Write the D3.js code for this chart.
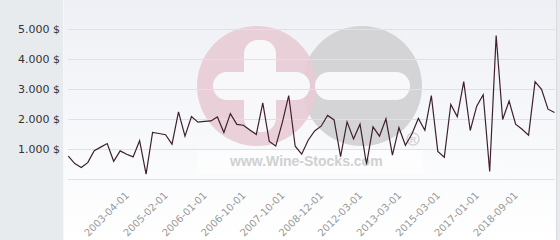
<!DOCTYPE html>
<html>
<head>
<meta charset="utf-8">
<script src="https://cdn.jsdelivr.net/npm/d3@7"></script>
<style>
  html, body { margin: 0; padding: 0; background: #fff; }
  svg { display: block; }
  .ylab text { font-family: "DejaVu Sans", sans-serif; font-size: 11px; fill: #333; }
  .xlab text { font-family: "DejaVu Sans", sans-serif; font-size: 10px; fill: #999; }
</style>
</head>
<body>
<script>
// price per observation, in $
var prices = [745, 500, 368, 530, 930, 1050, 1170, 575, 923, 810,
              722, 1265, 144, 1538, 1505, 1465, 1147, 2227, 1415, 2070,
              1885, 1910, 1926, 2060, 1540, 2170, 1810, 1780, 1625, 1475,
              2528, 1240, 1085, 1860, 2775, 1080, 813, 1281, 1590, 1749,
              2110, 1960, 735, 1893, 1320, 1816, 475, 1726, 1415, 1995,
              779, 1700, 1110, 1490, 2007, 1615, 2775, 905, 712, 2480,
              2070, 3240, 1605, 2420, 2800, 232, 4780, 1973, 2590, 1816,
              1645, 1448, 3240, 2980, 2318, 2207];

// labelled categories on the x axis and the observation they sit at
var tickLabels = ['2003-04-01', '2005-02-01', '2006-01-01', '2006-10-01', '2007-10-01',
                  '2008-12-01', '2012-03-01', '2013-03-01', '2015-03-01', '2017-01-01',
                  '2018-09-01'];
var tickIndex = [9, 15, 21, 27, 33, 39, 45, 51, 57, 63, 69];

var yTicks = [0, 1000, 2000, 3000, 4000, 5000];

var W = 560, H = 240;
var svg = d3.select('body').append('svg')
    .attr('width', W)
    .attr('height', H);

// background: grey side panel + gradient plot panel
var defs = svg.append('defs');
var grad = defs.append('linearGradient')
    .attr('id', 'bg')
    .attr('x1', 0).attr('y1', 0).attr('x2', 0).attr('y2', 1);
grad.append('stop').attr('offset', '0%').attr('stop-color', '#eef0f5');
grad.append('stop').attr('offset', '100%').attr('stop-color', '#ffffff');

svg.append('rect').attr('width', W).attr('height', H).attr('fill', '#e8ebee');
svg.append('rect')
    .attr('x', 63).attr('y', 0)
    .attr('width', 494).attr('height', H)
    .attr('fill', 'url(#bg)');
svg.append('line')
    .attr('x1', 63.5).attr('x2', 63.5).attr('y1', 0).attr('y2', H)
    .attr('stroke', '#f6f7f9');
svg.append('line')
    .attr('x1', 556.5).attr('x2', 556.5).attr('y1', 0).attr('y2', H)
    .attr('stroke', '#d8dadd');

var x = d3.scalePoint()
    .domain(d3.range(prices.length))
    .range([68.3, 554.5]);

var y = d3.scaleLinear()
    .domain([0, 5000])
    .range([178.5, 29]);

// watermark
var wm = svg.append('g').attr('class', 'watermark');
wm.append('circle').attr('cx', 362).attr('cy', 86).attr('r', 60).attr('fill', '#d4d4d6');
wm.append('circle').attr('cx', 257).attr('cy', 86).attr('r', 60).attr('fill', '#e8cbd4').attr('opacity', 0.9);
wm.append('rect').attr('x', 244).attr('y', 40).attr('width', 32).attr('height', 92)
    .attr('rx', 14).attr('fill', '#f8f8fb');
wm.append('rect').attr('x', 213).attr('y', 72).attr('width', 97).attr('height', 28)
    .attr('rx', 14).attr('fill', '#f8f8fb');
wm.append('rect').attr('x', 315).attr('y', 72).attr('width', 95).attr('height', 28)
    .attr('rx', 14).attr('fill', '#f8f8fb');
wm.append('rect').attr('x', 197).attr('y', 150).attr('width', 226).attr('height', 24)
    .attr('fill', '#ffffff').attr('opacity', 0.5);
wm.append('text')
    .attr('x', 230).attr('y', 166)
    .style('font-family', '"Liberation Sans", Arial, sans-serif')
    .style('font-weight', 'bold')
    .style('font-size', '14px')
    .attr('fill', '#d0d0d2')
    .text('www.Wine-Stocks.com');
wm.append('circle').attr('cx', 413).attr('cy', 139).attr('r', 6)
    .attr('fill', 'none').attr('stroke', '#d4d4d6').attr('stroke-width', 1.5);
wm.append('text')
    .attr('x', 413).attr('y', 142.5)
    .attr('text-anchor', 'middle')
    .style('font-family', '"Liberation Sans", Arial, sans-serif')
    .style('font-weight', 'bold')
    .style('font-size', '9px')
    .attr('fill', '#d4d4d6')
    .text('R');

// grid lines
svg.append('g')
    .selectAll('line')
    .data(yTicks)
    .join('line')
        .attr('x1', 68).attr('x2', 555)
        .attr('y1', function(d) { return Math.round(y(d)) + 0.5; })
        .attr('y2', function(d) { return Math.round(y(d)) + 0.5; })
        .attr('stroke', '#dfe1e4');

// y labels: 1.000 $ style
var de = d3.formatLocale({decimal: ',', thousands: '.', grouping: [3], currency: ['', ' $']});
var yAxis = d3.axisLeft(y)
    .tickValues(yTicks.slice(1))
    .tickSize(0)
    .tickPadding(0)
    .tickFormat(function(d) { return de.format(',')(d) + ' $'; });
var ya = svg.append('g')
    .attr('class', 'ylab')
    .attr('transform', 'translate(60,0)')
    .call(yAxis);
ya.select('.domain').remove();
ya.selectAll('text').attr('dy', '0.35em');

// price line
var line = d3.line()
    .x(function(d, i) { return x(i); })
    .y(function(d) { return y(d); });
svg.append('path')
    .datum(prices)
    .attr('d', line)
    .attr('fill', 'none')
    .attr('stroke', '#3e2030')
    .attr('stroke-width', 1.2)
    .attr('stroke-linejoin', 'miter');

// rotated x labels
var xl = svg.append('g').attr('class', 'xlab');
xl.selectAll('text')
    .data(tickLabels)
    .join('text')
        .attr('text-anchor', 'end')
        .attr('transform', function(d, k) {
            return 'translate(' + (x(tickIndex[k]) + 3) + ',196) rotate(-45)';
        })
        .text(function(d) { return d; });
</script>
</body>
</html>
